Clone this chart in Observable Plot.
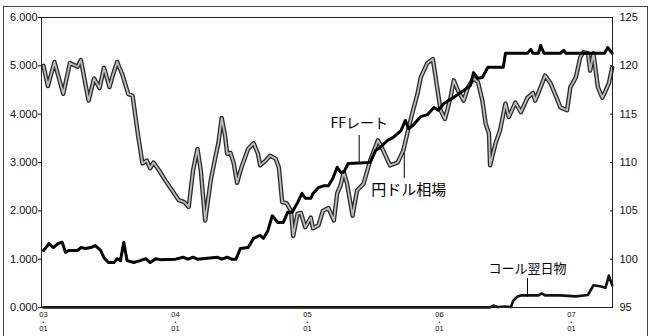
<!DOCTYPE html>
<html><head><meta charset="utf-8">
<script src="https://cdn.jsdelivr.net/npm/d3@7"></script>
<script src="https://cdn.jsdelivr.net/npm/@observablehq/plot@0.6"></script>
<style>
body{margin:0;background:#fff;}
#wrap{position:relative;width:649px;height:336px;overflow:hidden;}
#border{position:absolute;left:3px;top:6px;width:643px;height:340px;border:1px solid #444;pointer-events:none;}
</style></head><body><div id="wrap"><div id="chart"></div><div id="border"></div></div>
<script>
// x values: months since 2003-01
const yenMonths = [0,0.4,1.0,1.8,2.4,3.1,3.4,4.1,4.6,5.1,5.5,6.0,6.3,6.7,7.2,7.7,8.1,8.6,9.0,9.4,9.7,10.0,10.5,11.1,11.7,12.3,12.8,13.2,13.6,14.0,14.3,14.7,15.2,15.6,15.9,16.2,16.5,16.7,17.0,17.3,17.6,18.0,18.6,19.1,19.5,19.7,20.2,20.6,21.1,21.4,21.7,22.1,22.5,22.7,23.1,23.4,23.8,24.3,24.5,25.0,25.4,25.9,26.4,26.7,27.0,27.3,27.6,28.1,28.5,29.1,29.7,30.4,30.9,31.5,32.2,32.7,33.2,33.6,34.0,34.3,34.9,35.4,35.8,36.1,36.5,37.0,37.3,37.7,38.2,38.6,39.1,39.5,39.9,40.2,40.5,40.6,41.1,41.5,42.0,42.3,42.9,43.4,44.0,44.5,44.7,45.2,45.6,46.1,46.5,47.0,47.6,47.9,48.4,48.8,49.1,49.5,49.7,50.0,50.4,50.8,51.1,51.4,51.7];
const yenValues = [120.0,117.9,120.4,117.1,120.3,119.9,120.6,116.4,118.7,117.7,119.8,117.8,119.0,120.4,119.0,117.1,116.9,112.8,109.9,110.2,109.4,110.0,109.2,108.1,107.1,106.1,105.9,105.4,109.2,111.4,109.2,104.0,108.1,110.4,112.0,114.6,112.8,110.9,111.0,109.9,107.9,109.5,111.4,112.0,110.9,109.7,110.2,110.7,110.4,109.5,105.9,105.8,105.0,102.4,104.7,104.8,103.3,104.3,103.2,103.5,105.0,105.3,104.0,106.8,107.6,109.0,107.8,104.5,107.1,107.8,110.2,112.3,111.2,109.7,110.0,111.2,113.6,115.4,117.1,118.8,120.3,120.7,117.7,115.4,114.5,116.7,118.5,117.4,116.4,117.8,118.7,118.3,116.4,114.0,113.0,109.7,112.0,113.3,116.1,114.7,116.2,115.2,116.7,117.2,116.4,117.8,119.0,118.2,117.1,115.7,115.4,117.8,118.8,120.9,121.4,121.3,119.5,121.3,117.8,116.7,117.4,118.2,119.8];
const ffMonths = [0,0.5,0.9,1.3,1.7,2.0,2.3,3.1,3.4,3.8,4.3,4.7,5.2,5.5,5.9,6.4,6.7,7.0,7.3,7.6,8.2,8.8,9.3,9.7,10.2,10.6,12.0,12.7,13.1,13.6,14.0,15.8,16.2,16.7,17.1,17.5,17.9,18.6,19.1,19.7,20.0,20.4,20.8,21.3,21.8,22.2,22.6,23.1,23.5,23.8,24.3,24.5,25.0,25.5,25.9,26.3,26.7,27.0,27.3,27.7,29.7,30.2,30.6,31.3,31.8,32.5,32.9,33.2,33.6,34.3,34.9,35.5,35.9,36.4,37.3,38.2,38.8,39.1,39.5,39.9,40.4,41.8,42.0,44.0,44.3,44.5,45.0,45.2,45.5,47.0,47.3,47.5,51.0,51.3,51.7];
const ffValues = [1.18,1.32,1.24,1.32,1.35,1.14,1.18,1.18,1.24,1.22,1.24,1.28,1.18,1.03,0.93,0.93,1.01,0.97,1.35,0.97,0.93,0.97,1.01,0.93,1.01,0.99,1.0,1.04,1.0,1.04,1.0,1.04,1.0,1.04,1.0,1.0,1.22,1.24,1.43,1.49,1.43,1.59,1.90,1.76,1.76,1.97,1.97,2.17,2.36,2.26,2.26,2.36,2.48,2.52,2.52,2.67,2.90,2.80,2.80,2.98,3.0,3.25,3.31,3.46,3.52,3.66,3.87,3.70,3.77,3.95,3.99,4.14,4.08,4.22,4.35,4.49,4.59,4.86,4.74,4.76,4.97,4.97,5.26,5.26,5.34,5.26,5.26,5.42,5.26,5.26,5.32,5.26,5.26,5.38,5.26];
const callMonths = [0,40.6,40.9,41.3,42.0,42.5,42.7,43.1,43.4,45.0,45.3,45.6,47.0,48.4,49.5,50.0,50.6,51.1,51.4,51.7];
const callValues = [0.002,0.002,0.04,0.01,0.02,0.01,0.14,0.23,0.25,0.25,0.29,0.25,0.25,0.23,0.26,0.46,0.44,0.41,0.66,0.46];

const xTicks = [0,12,24,36,48];
const xYearLabels = ["03","04","05","06","07"];
const xMonthLabels = ["01","01","01","01","01"];
const leftTicks = [0,1,2,3,4,5,6];
const rightTicks = [95,100,105,110,115,120,125];

const labelTexts = ["FFレート","円ドル相場","コール翌日物"];
const labelMonths = [28.7,33.2,44.0];
const labelValues = [3.81,2.42,0.81];
const labelSizes = [14,15,13];
const leaderMonths = [28.7,32.8,44.0];
const leaderFrom = [3.56,3.19,0.60];
const leaderTo = [3.0,2.67,0.21];

const toRate = yen => (yen - 95) / 5;
const fromRate = r => 95 + r * 5;
const yen = yenMonths.map((m,i)=>({m, v: toRate(yenValues[i])}));
const ff = ffMonths.map((m,i)=>({m, v: ffValues[i]}));
const call = callMonths.map((m,i)=>({m, v: callValues[i]}));
const labels = labelTexts.map((t,i)=>({t, m: labelMonths[i], v: labelValues[i], s: labelSizes[i]}));
const leaders = leaderMonths.map((m,i)=>({m, y1: leaderFrom[i], y2: leaderTo[i]}));
const yearLabel = new Map(xTicks.map((t,i)=>[t, xYearLabels[i]]));
const monthLabel = new Map(xTicks.map((t,i)=>[t, xMonthLabels[i]]));

const cjk = "'Noto Sans CJK JP', 'Noto Sans', sans-serif";
const plot = Plot.plot({
  width: 649, height: 336,
  marginLeft: 41, marginRight: 37, marginTop: 17, marginBottom: 29,
  style: {fontFamily: "'Liberation Sans', Arial, sans-serif", fontSize: "11px", color: "#111", background: "transparent"},
  x: {domain: [-0.18, 51.73], label: null},
  y: {domain: [0, 6], label: null},
  marks: [
    Plot.axisY(leftTicks, {anchor: "left", tickSize: 3, tickPadding: 1, tickFormat: d3.format(".3f"), fontSize: 11, label: null}),
    Plot.axisY(rightTicks.map(toRate), {anchor: "right", tickSize: -3, tickPadding: 10, tickFormat: v => String(Math.round(fromRate(v))), fontSize: 11, label: null}),
    Plot.axisX(xTicks, {anchor: "bottom", tickSize: 0, tickPadding: 4.5, tickFormat: d => yearLabel.get(d), fontSize: 7.5, label: null}),
    Plot.axisX(xTicks, {anchor: "bottom", tickSize: 0, tickPadding: 12.5, tickFormat: () => "•", fontSize: 5, label: null}),
    Plot.axisX(xTicks, {anchor: "bottom", tickSize: 0, tickPadding: 18.5, tickFormat: d => monthLabel.get(d), fontSize: 7.5, label: null}),
    Plot.line(yen, {x: "m", y: "v", stroke: "#2b2b2b", strokeWidth: 4.4}),
    Plot.line(yen, {x: "m", y: "v", stroke: "#bdbdbd", strokeWidth: 1.8}),
    Plot.line(call, {x: "m", y: "v", stroke: "#111", strokeWidth: 2.6}),
    Plot.line(ff, {x: "m", y: "v", stroke: "#000", strokeWidth: 3}),
    Plot.frame({stroke: "#222", strokeWidth: 1}),
    Plot.ruleX(leaders, {x: "m", y1: "y1", y2: "y2", stroke: "#000", strokeWidth: 1}),
    Plot.text(labels, {x: "m", y: "v", text: "t", fontSize: d => d.s, fontFamily: cjk, fill: "#000", textAnchor: "middle"})
  ]
});
document.getElementById("chart").appendChild(plot);
</script></body></html>
